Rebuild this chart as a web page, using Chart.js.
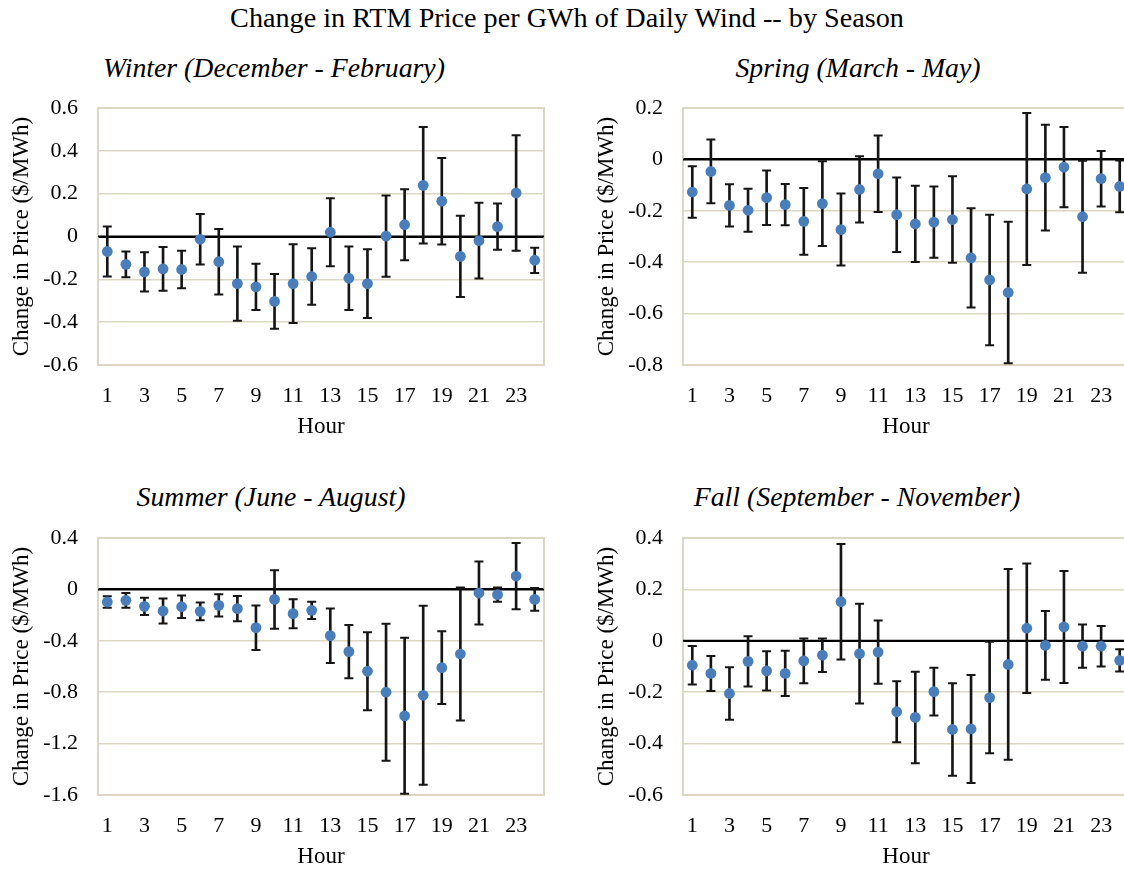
<!DOCTYPE html>
<html>
<head>
<meta charset="utf-8">
<script src="https://cdn.jsdelivr.net/npm/chart.js@4.4.1/dist/chart.umd.min.js"></script>
<style>
    html, body { margin: 0; padding: 0; background: #fff; }
    body { width: 1124px; height: 872px; overflow: hidden; position: relative; font-family: "Liberation Serif", serif; }
    canvas { position: absolute; }
    .title { position: absolute; width: 800px; text-align: center; line-height: 30px; color: #000; white-space: nowrap; font-family: "Liberation Serif", serif; }
    .main { font-size: 28.2px; }
    .sub { font-size: 27.8px; font-style: italic; }
</style>
</head>
<body>
<div class="title main" style="left: 167px; top: 3px;">Change in RTM Price per GWh of Daily Wind -- by Season</div>
<div class="title sub" style="left: -126px; top: 53px;">Winter (December - February)</div>
<div class="title sub" style="left: 458px; top: 53px;">Spring (March - May)</div>
<div class="title sub" style="left: -129px; top: 482px;">Summer (June - August)</div>
<div class="title sub" style="left: 457px; top: 482px;">Fall (September - November)</div>

<canvas id="winter" width="554" height="367" style="left: 0px; top: 74px;"></canvas>
<canvas id="spring" width="554" height="367" style="left: 585px; top: 74px;"></canvas>
<canvas id="summer" width="554" height="367" style="left: 0px; top: 504px;"></canvas>
<canvas id="fall" width="554" height="367" style="left: 585px; top: 504px;"></canvas>

<script>
const hours = ["1", "2", "3", "4", "5", "6", "7", "8", "9", "10", "11", "12",
    "13", "14", "15", "16", "17", "18", "19", "20", "21", "22", "23", "24"];

// mean change and error (half-width of bar) per hour
const winterVal = [-0.07, -0.13, -0.165, -0.151, -0.154, -0.013, -0.118, -0.22, -0.235, -0.303, -0.22, -0.187,
    0.02, -0.195, -0.22, 0.002, 0.055, 0.239, 0.165, -0.093, -0.019, 0.046, 0.203, -0.111];
const winterErr = [0.117, 0.06, 0.092, 0.102, 0.088, 0.118, 0.153, 0.173, 0.108, 0.128, 0.184, 0.132,
    0.159, 0.148, 0.161, 0.19, 0.166, 0.272, 0.202, 0.19, 0.177, 0.108, 0.27, 0.059];

const springVal = [-0.127, -0.047, -0.179, -0.198, -0.149, -0.176, -0.241, -0.172, -0.273, -0.117, -0.056, -0.215,
    -0.251, -0.244, -0.234, -0.383, -0.469, -0.518, -0.115, -0.071, -0.03, -0.223, -0.075, -0.105];
const springErr = [0.1, 0.124, 0.082, 0.084, 0.106, 0.08, 0.13, 0.165, 0.14, 0.129, 0.149, 0.145,
    0.148, 0.139, 0.168, 0.193, 0.254, 0.275, 0.296, 0.206, 0.156, 0.218, 0.108, 0.101];

const summerVal = [-0.098, -0.085, -0.132, -0.168, -0.135, -0.171, -0.124, -0.15, -0.298, -0.078, -0.189, -0.163,
    -0.36, -0.484, -0.637, -0.8, -0.984, -0.824, -0.609, -0.503, -0.028, -0.041, 0.104, -0.078];
const summerErr = [0.045, 0.057, 0.067, 0.097, 0.087, 0.07, 0.087, 0.098, 0.173, 0.228, 0.113, 0.067,
    0.212, 0.207, 0.303, 0.533, 0.607, 0.697, 0.283, 0.517, 0.245, 0.055, 0.258, 0.088];

const fallVal = [-0.095, -0.127, -0.205, -0.08, -0.117, -0.127, -0.078, -0.056, 0.152, -0.05, -0.044, -0.276,
    -0.298, -0.198, -0.345, -0.343, -0.221, -0.092, 0.049, -0.018, 0.054, -0.021, -0.021, -0.076];
const fallErr = [0.075, 0.068, 0.102, 0.098, 0.076, 0.088, 0.087, 0.065, 0.225, 0.194, 0.123, 0.119,
    0.178, 0.093, 0.18, 0.21, 0.217, 0.371, 0.252, 0.134, 0.218, 0.084, 0.079, 0.043];

const FONT = "'Liberation Serif', serif";
const GRID = "#dcd7c2";

// plot-area frame in Excel beige
const framePlugin = {
    id: "frame",
    beforeDatasetsDraw(chart) {
        const a = chart.chartArea;
        const ctx = chart.ctx;
        ctx.save();
        ctx.strokeStyle = GRID;
        ctx.lineWidth = 2;
        ctx.strokeRect(a.left, a.top, a.right - a.left, a.bottom - a.top);
        // zero line back on top of the frame
        const y0 = chart.scales.y.getPixelForValue(0);
        ctx.strokeStyle = "#000";
        ctx.beginPath();
        ctx.moveTo(a.left, y0);
        ctx.lineTo(a.right, y0);
        ctx.stroke();
        ctx.restore();
    }
};

function makeChart(id, val, err, min, max, step) {
    const lows = val.map((v, i) => v - err[i]);
    const highs = val.map((v, i) => v + err[i]);
    return new Chart(document.getElementById(id), {
        type: "bar",
        data: {
            labels: hours,
            datasets: [
                {
                    type: "bar",
                    data: val.map((v, i) => [lows[i], highs[i]]),
                    backgroundColor: "#151515",
                    borderWidth: 0,
                    barThickness: 2,
                    order: 3
                },
                {
                    type: "line",
                    data: highs,
                    showLine: false,
                    pointStyle: "line",
                    pointRadius: 4.5,
                    pointBorderWidth: 2,
                    pointBorderColor: "#151515",
                    order: 2
                },
                {
                    type: "line",
                    data: lows,
                    showLine: false,
                    pointStyle: "line",
                    pointRadius: 4.5,
                    pointBorderWidth: 2,
                    pointBorderColor: "#151515",
                    order: 2
                },
                {
                    type: "line",
                    data: val,
                    showLine: false,
                    pointStyle: "circle",
                    pointRadius: 5.4,
                    pointBorderWidth: 0,
                    pointBackgroundColor: "#4a7ebb",
                    order: 1
                }
            ]
        },
        options: {
            responsive: false,
            animation: false,
            events: [],
            layout: { padding: { top: 34, right: 10, bottom: 0, left: 0 } },
            plugins: { legend: { display: false }, tooltip: { enabled: false } },
            scales: {
                x: {
                    type: "category",
                    offset: true,
                    grid: { display: false, drawTicks: false },
                    border: { display: false },
                    ticks: {
                        autoSkip: false,
                        maxRotation: 0,
                        padding: 18,
                        color: "#000",
                        font: { family: FONT, size: 22 },
                        callback: (v, i) => (i % 2 === 0 ? hours[i] : "")
                    },
                    title: {
                        display: true,
                        text: "Hour",
                        color: "#000",
                        padding: 0,
                        font: { family: FONT, size: 23 }
                    },
                    afterFit: (s) => { s.height = 76; }
                },
                y: {
                    min: min,
                    max: max,
                    grid: {
                        drawTicks: false,
                        color: (c) => (Math.abs(c.tick.value) < 1e-9 ? "#000" : GRID),
                        lineWidth: (c) => (Math.abs(c.tick.value) < 1e-9 ? 2 : 1.6)
                    },
                    border: { display: false },
                    ticks: {
                        stepSize: step,
                        padding: 20,
                        color: "#000",
                        font: { family: FONT, size: 22 },
                        callback: (v) => String(Number(v.toFixed(1)))
                    },
                    title: {
                        display: true,
                        text: "Change in Price ($/MWh)",
                        color: "#000",
                        padding: { top: 8, bottom: 0 },
                        font: { family: FONT, size: 23 }
                    },
                    afterFit: (s) => { s.width = 98; }
                }
            }
        },
        plugins: [framePlugin]
    });
}

function drawAll() {
    makeChart("winter", winterVal, winterErr, -0.6, 0.6, 0.2);
    makeChart("spring", springVal, springErr, -0.8, 0.2, 0.2);
    makeChart("summer", summerVal, summerErr, -1.6, 0.4, 0.4);
    makeChart("fall", fallVal, fallErr, -0.6, 0.4, 0.2);
}

// canvas text needs the serif face loaded first
Promise.all([
    document.fonts.load("22px 'Liberation Serif'"),
    document.fonts.load("italic 27px 'Liberation Serif'")
]).then(drawAll, drawAll);
</script>
</body>
</html>
